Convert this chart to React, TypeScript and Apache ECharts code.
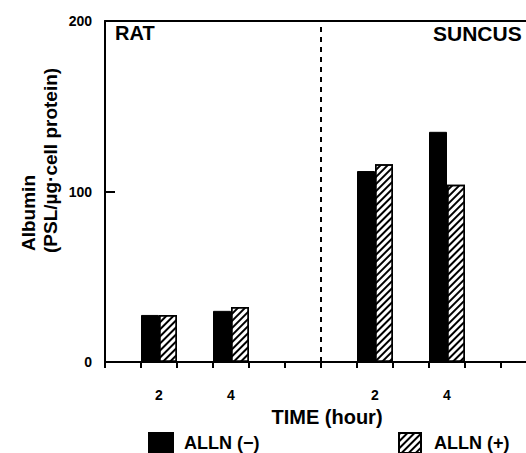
import React, { useEffect, useRef } from 'react';
import * as echarts from 'echarts';

// 12 time slots on the x axis: 6 for RAT, 6 for SUNCUS
const categories = ['RAT-1', 'RAT-2', 'RAT-3', 'RAT-4', 'RAT-5', 'RAT-6', 'SUNCUS-1', 'SUNCUS-2', 'SUNCUS-3', 'SUNCUS-4', 'SUNCUS-5', 'SUNCUS-6'];
const timeLabels = ['', '2', '', '4', '', '', '', '2', '', '4', '', ''];
const allnMinus = [null, 27.6, null, 30.0, null, null, null, 112, null, 135, null, null];
const allnPlus = [null, 27.6, null, 32.3, null, null, null, 116, null, 104, null, null];
const seriesNames = ['ALLN (\u2212)', 'ALLN (+)'];
const panelLabels = ['RAT', 'SUNCUS'];
const yTitle = ['Albumin', '(PSL/\u00b5g\u00b7cell protein)'];
const xTitle = 'TIME (hour)';
const slotCount = 12;
const dividerSlot = 6; // boundary between RAT and SUNCUS panels

const FONT = '"Liberation Sans", Arial, Helvetica, sans-serif';

export default function App() {
  const ref = useRef<HTMLDivElement>(null);
  useEffect(() => {
    if (!ref.current) return;
    const chart = echarts.init(ref.current, null, { renderer: 'svg' });
    const hatch = {
      symbol: 'rect',
      symbolSize: 1,
      color: '#000',
      backgroundColor: '#fff',
      dashArrayX: [1, 0],
      dashArrayY: [2, 3],
      rotation: -Math.PI / 4,
    };
    chart.setOption({
      animation: false,
      backgroundColor: '#fff',
      textStyle: { fontFamily: FONT, color: '#000' },
      grid: {
        left: 105,
        top: 21,
        width: 432,
        height: 341,
        outerBoundsMode: 'none',
        containLabel: false,
        show: false,
      },
      legend: [
        {
          data: [seriesNames[0]],
          left: 148,
          top: 432,
          padding: 0,
          itemWidth: 24,
          itemHeight: 20,
          icon: 'rect',
          textStyle: { fontFamily: FONT, fontWeight: 'bold', fontSize: 18, color: '#000', padding: [0, 0, 0, 6] },
        },
        {
          data: [seriesNames[1]],
          left: 398,
          top: 432,
          padding: 0,
          itemWidth: 22,
          itemHeight: 20,
          icon: 'rect',
          textStyle: { fontFamily: FONT, fontWeight: 'bold', fontSize: 18, color: '#000', padding: [0, 0, 0, 8] },
        },
      ],
      xAxis: [
        {
          type: 'category',
          data: categories,
          boundaryGap: true,
          name: xTitle,
          nameLocation: 'middle',
          nameGap: 44,
          nameTextStyle: { fontFamily: FONT, fontWeight: 'bold', fontSize: 20, color: '#000', padding: [0, 0, 0, 12] },
          axisLine: { lineStyle: { color: '#000', width: 2 } },
          axisTick: { show: true, interval: 0, inside: false, length: 6, lineStyle: { color: '#000', width: 2 } },
          axisLabel: {
            interval: 0,
            margin: 26,
            fontFamily: FONT,
            fontWeight: 'bold',
            fontSize: 14,
            color: '#000',
            formatter: (_v: string, i: number) => timeLabels[i],
          },
          splitLine: { show: false },
        },
        {
          type: 'value',
          position: 'top',
          min: 0,
          max: slotCount,
          axisLine: { show: true, onZero: false, lineStyle: { color: '#000', width: 2 } },
          axisTick: { show: false },
          axisLabel: { show: false },
          splitLine: { show: false },
        },
      ],
      yAxis: {
        type: 'value',
        min: 0,
        max: 200,
        interval: 100,
        axisLine: { show: true, onZero: false, lineStyle: { color: '#000', width: 2 } },
        axisTick: { show: true, inside: true, length: 10, lineStyle: { color: '#000', width: 2 } },
        axisLabel: { margin: 13, fontFamily: FONT, fontWeight: 'bold', fontSize: 14, color: '#000' },
        splitLine: { show: false },
      },
      series: [
        {
          name: seriesNames[0],
          type: 'bar',
          data: allnMinus,
          barGap: '0%',
          barCategoryGap: '0%',
          itemStyle: { color: '#000', borderColor: '#000', borderWidth: 1 },
        },
        {
          name: seriesNames[1],
          type: 'bar',
          data: allnPlus,
          barGap: '0%',
          barCategoryGap: '0%',
          itemStyle: { color: '#fff', borderColor: '#000', borderWidth: 1.5, decal: hatch },
        },
        {
          name: 'divider',
          type: 'line',
          xAxisIndex: 1,
          data: [],
          markLine: {
            silent: true,
            symbol: 'none',
            label: { show: false },
            lineStyle: { color: '#000', width: 2, type: [5, 5] },
            data: [{ xAxis: dividerSlot }],
          },
        },
      ],
      graphic: [
        {
          type: 'text',
          left: 115,
          top: 23,
          style: { text: panelLabels[0], font: `bold 20px ${FONT}`, fill: '#000' },
        },
        {
          type: 'text',
          left: 433,
          top: 23,
          style: { text: panelLabels[1], font: `bold 21px ${FONT}`, fill: '#000' },
        },
        {
          type: 'text',
          x: 28,
          y: 251,
          rotation: Math.PI / 2,
          style: { text: yTitle[0], font: `bold 19px ${FONT}`, fill: '#000', textAlign: 'left', textVerticalAlign: 'middle' },
        },
        {
          type: 'text',
          x: 50,
          y: 253,
          rotation: Math.PI / 2,
          style: { text: yTitle[1], font: `bold 19px ${FONT}`, fill: '#000', textAlign: 'left', textVerticalAlign: 'middle' },
        },
      ],
    });
    return () => chart.dispose();
  }, []);
  return <div ref={ref} style={{ position: 'fixed', left: 0, top: 0, width: 526, height: 453 }} />;
}
